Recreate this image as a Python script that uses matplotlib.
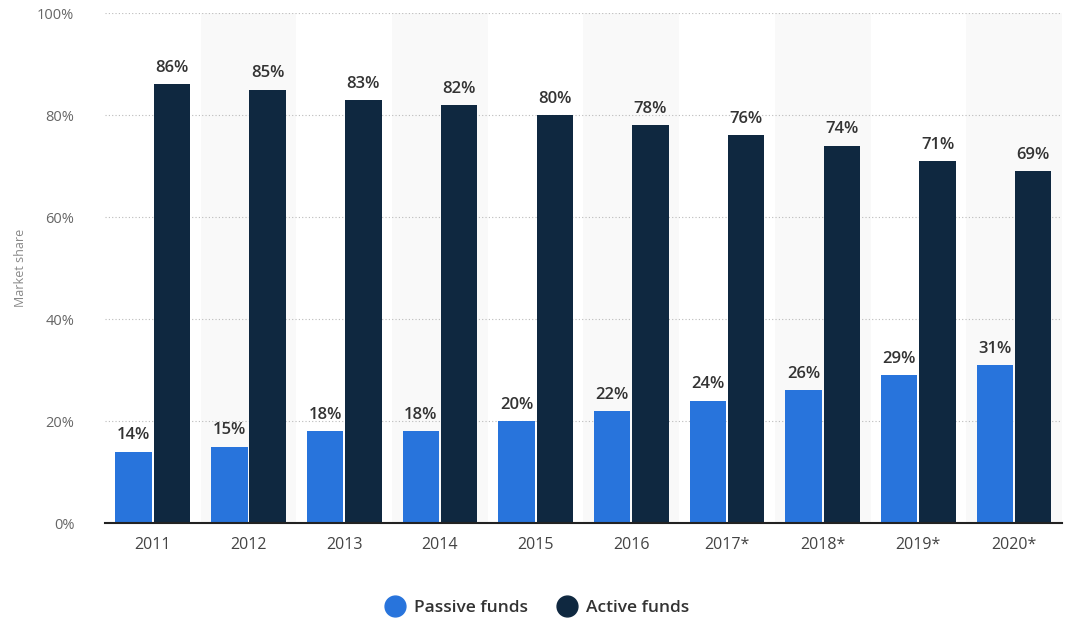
import matplotlib
matplotlib.use("Agg")
import matplotlib.pyplot as plt
from matplotlib.lines import Line2D
import numpy as np

years = ["2011", "2012", "2013", "2014", "2015", "2016", "2017*", "2018*", "2019*", "2020*"]
passive = [14, 15, 18, 18, 20, 22, 24, 26, 29, 31]
active = [86, 85, 83, 82, 80, 78, 76, 74, 71, 69]

c_passive = "#2874dc"
c_active = "#0f2840"

plt.rcParams['font.family'] = ['Open Sans', 'DejaVu Sans']

fig = plt.figure(figsize=(10.81, 6.29), dpi=100)
ax = fig.add_axes([0.0971, 0.1685, 0.8853, 0.8108])

x = np.arange(len(years))
w = 0.38
gap = 0.01

for i in range(len(years)):
    if i % 2 == 1:
        ax.axvspan(i - 0.5, i + 0.5, color="#f9f9f9", zorder=0, lw=0)

b1 = ax.bar(x - w / 2 - gap, passive, w, color=c_passive, zorder=3)
b2 = ax.bar(x + w / 2 + gap, active, w, color=c_active, zorder=3)

for rect, v in zip(b1, passive):
    ax.text(rect.get_x() + rect.get_width() / 2, v + 1.6, f"{v}%", ha="center", va="bottom",
            fontsize=12, fontweight="semibold", color="#333333", zorder=4)
for rect, v in zip(b2, active):
    ax.text(rect.get_x() + rect.get_width() / 2, v + 1.6, f"{v}%", ha="center", va="bottom",
            fontsize=12, fontweight="semibold", color="#333333", zorder=4)

ax.set_xlim(-0.5, len(years) - 0.5)
ax.set_ylim(0, 100)
ax.set_yticks([0, 20, 40, 60, 80, 100])
ax.set_yticklabels([f"{t}%" for t in [0, 20, 40, 60, 80, 100]])
ax.set_xticks(x)
ax.set_xticklabels(years)
ax.tick_params(axis="y", length=0, pad=22, labelsize=10.5, labelcolor="#666666")
ax.tick_params(axis="x", length=0, pad=10, labelsize=11.5, labelcolor="#444444")
ax.yaxis.grid(True, linestyle=(0, (1, 2)), color="#bbbbbb", lw=0.8, zorder=1)
ax.set_axisbelow(True)
for s in ["top", "right", "left"]:
    ax.spines[s].set_visible(False)
ax.spines["bottom"].set_color("#222222")
ax.spines["bottom"].set_linewidth(1.5)
ax.spines["bottom"].set_zorder(5)

fig.text(21 / 1081, 1 - 268 / 629, "Market share", rotation=90, fontsize=9, color="#888888",
         ha="center", va="center")

handles = [Line2D([0], [0], marker="o", color="none", markerfacecolor=c_passive, markeredgecolor=c_passive, markersize=15),
           Line2D([0], [0], marker="o", color="none", markerfacecolor=c_active, markeredgecolor=c_active, markersize=15)]
leg = fig.legend(handles, ["Passive funds", "Active funds"], loc="center", bbox_to_anchor=(537 / 1081, 1 - 608 / 629),
                 ncol=2, frameon=False, fontsize=12.5, handletextpad=0.5, columnspacing=1.6, handlelength=1.2)
for t in leg.get_texts():
    t.set_fontweight("semibold")
    t.set_color("#333333")

fig.savefig("out.png", dpi=100)
